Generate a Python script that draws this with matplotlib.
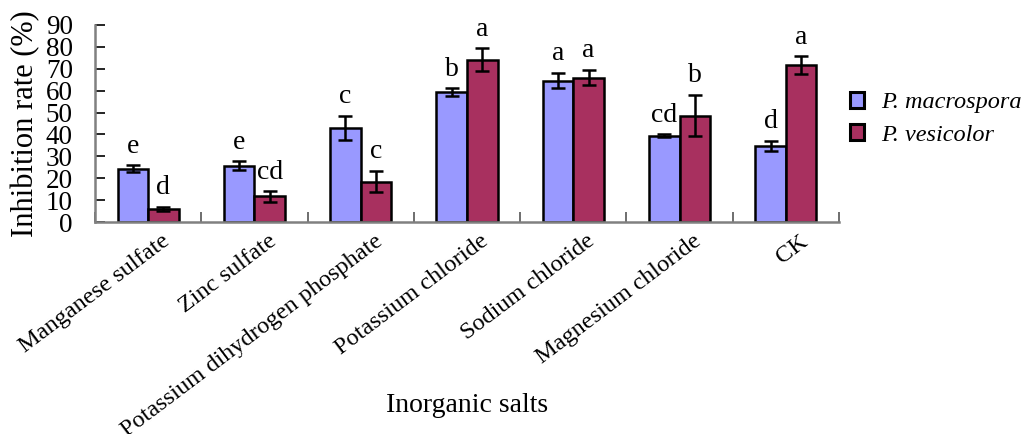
import matplotlib
matplotlib.use("Agg")
import matplotlib.pyplot as plt
import matplotlib.transforms as mtransforms
import numpy as np

categories = ["Manganese sulfate", "Zinc sulfate", "Potassium dihydrogen phosphate",
              "Potassium chloride", "Sodium chloride", "Magnesium chloride", "CK"]
macrospora = [24.4, 25.8, 43.0, 59.4, 64.6, 39.5, 34.8]
macrospora_err = [1.5, 2.0, 5.6, 1.7, 3.5, 0.5, 2.4]
vesicolor = [6.1, 11.7, 18.5, 74.2, 66.0, 48.6, 71.6]
vesicolor_err = [0.9, 2.4, 4.9, 5.1, 3.6, 9.4, 4.2]
macrospora_letters = ["e", "e", "c", "b", "a", "cd", "d"]
vesicolor_letters = ["d", "cd", "c", "a", "a", "b", "a"]
series_names = ["P. macrospora", "P. vesicolor"]

plt.rcParams['font.family'] = ['Liberation Serif', 'DejaVu Serif']

fig = plt.figure(figsize=(10.36, 4.34), dpi=100)
ax = fig.add_axes([95/1036, 1-222/434, (839-95)/1036, (222-25)/434])

x = np.arange(len(categories))
w = 0.287
err_kw = dict(ecolor='black', elinewidth=1.8, capsize=5, capthick=1.8)
ax.bar(x - w/2, macrospora, w, yerr=macrospora_err, color='#9999FF',
       edgecolor='black', linewidth=1.8, error_kw=err_kw, label=series_names[0], zorder=2)
ax.bar(x + w/2, vesicolor, w, yerr=vesicolor_err, color='#A8305F',
       edgecolor='black', linewidth=1.8, error_kw=err_kw, label=series_names[1], zorder=2)

for i in range(len(categories)):
    ax.text(x[i] - w/2, macrospora[i] + macrospora_err[i] + 3.0, macrospora_letters[i],
            ha='center', va='bottom', fontsize=20)
    ax.text(x[i] + w/2, vesicolor[i] + vesicolor_err[i] + 3.0, vesicolor_letters[i],
            ha='center', va='bottom', fontsize=20)

ax.set_xlim(-0.5, len(categories) - 0.5)
ax.set_ylim(0, 90)
ax.set_yticks(np.arange(0, 91, 10))
ax.tick_params(axis='y', direction='in', length=7, width=1.2, labelsize=19.5, pad=16)
ax.set_xticks(x)
ax.set_xticks(np.arange(-0.5, len(categories), 1.0), minor=True)
ax.tick_params(axis='x', which='major', length=0, labelsize=17.5, pad=4)
ax.tick_params(axis='x', which='minor', direction='in', length=7, width=1.2, color='#555555')
ax.set_xticklabels(categories, rotation=37, ha='right', rotation_mode='anchor')
offset = mtransforms.ScaledTranslation(13/100, -3/100, fig.dpi_scale_trans)
for lab in ax.get_xticklabels():
    lab.set_transform(lab.get_transform() + offset)

for s in ['top', 'right']:
    ax.spines[s].set_visible(False)
for s in ['left', 'bottom']:
    ax.spines[s].set_color('#808080')
    ax.spines[s].set_linewidth(1.8)

ax.set_ylabel("Inhibition rate (%)", fontsize=22, labelpad=4)
fig.text(467/1036, 1-405/434, "Inorganic salts", ha='center', va='center', fontsize=20)

leg = ax.legend(loc='upper left', bbox_to_anchor=(0.985, 0.77), frameon=False,
                prop={'style': 'italic', 'size': 17.5}, handlelength=0.6, handleheight=0.6,
                handletextpad=0.7, labelspacing=0.45)
for h in leg.legend_handles:
    h.set_linewidth(2.2)

fig.savefig("out.png", dpi=100)
